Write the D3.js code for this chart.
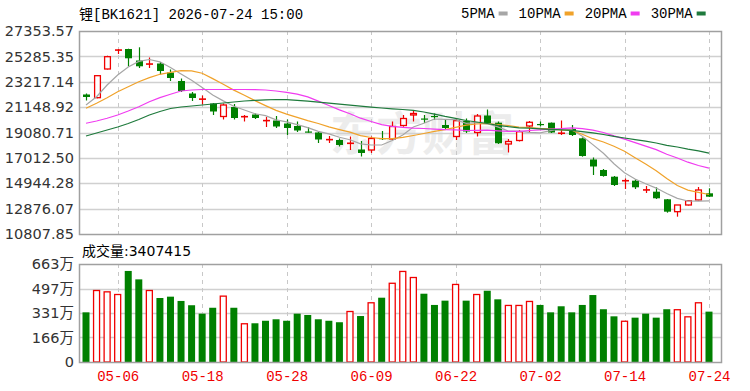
<!DOCTYPE html>
<html lang="zh">
<head>
<meta charset="UTF-8">
<title>锂 BK1621</title>
<script src="https://d3js.org/d3.v7.min.js"></script>
<style>
  body { margin: 0; background: #fff; }
  svg text { font-family: "DejaVu Sans", "Noto Sans CJK SC", sans-serif; }
  .mono { font-family: "Liberation Mono", "Noto Sans CJK SC", monospace !important; }
</style>
</head>
<body>
<div id="chart"></div>
<script>
// trading days shown on the chart
var dates = ["04-28","04-29","04-30","05-06","05-07","05-08","05-11","05-12","05-13","05-14",
  "05-15","05-18","05-19","05-20","05-21","05-22","05-25","05-26","05-27","05-28",
  "05-29","06-01","06-02","06-03","06-04","06-05","06-08","06-09","06-10","06-11",
  "06-12","06-15","06-16","06-17","06-18","06-22","06-23","06-24","06-25","06-26",
  "06-29","06-30","07-01","07-02","07-03","07-06","07-07","07-08","07-09","07-10",
  "07-13","07-14","07-15","07-16","07-17","07-20","07-21","07-22","07-23","07-24"];

var open = [22179,21918,24257,25800,25887,24949,24660,24705,23971,23279,
  22260,21800,21445,20385,21160,20370,20548,20050,20059,19815,
  19611,19163,19081,18500,18470,18200,17696,17655,18633,18552,
  19652,20508,20222,20426,19693,18755,20019,19081,20467,19880,
  18144,18429,19611,19774,19880,19020,19367,18609,16881,16025,
  15479,15150,15153,14400,14257,13637,12627,13173,13580,14126];
var high = [22260,23768,25341,25887,25911,26025,25194,24827,24216,23482,
  22382,22097,21486,21445,21404,20508,20630,20345,20426,20141,
  19978,19530,19122,18796,18592,18755,18389,18755,19204,19978,
  20508,20915,20508,20630,20100,20239,20222,20589,20956,19978,
  18552,19285,20019,19978,19896,20059,19693,18674,17044,16107,
  15536,15332,15267,14721,14615,13662,13173,13580,14640,14534];
var low = [21690,21869,24216,25479,24460,24338,24338,23825,23279,22382,
  21649,21363,20508,20141,20141,19978,20182,19530,19448,18878,
  19122,19065,18226,18226,17940,17655,17125,17411,18470,18470,
  19554,19978,19856,20100,19367,18470,19041,18755,19774,18144,
  17451,18348,19041,19570,19041,18878,18796,17109,15618,15479,
  14721,14477,14477,14151,13662,12545,12219,13132,13539,13825];
var close = [21975,23711,25259,25800,25129,24477,24660,24094,23523,22464,
  21893,21800,20793,21323,20263,20370,20263,20050,19570,19448,
  19244,19098,18511,18500,18063,18200,17411,18592,18592,19570,
  20222,20630,20141,20345,19448,20043,19163,20426,19856,18201,
  18348,19147,19913,19693,19081,19020,18878,17166,16310,15536,
  14803,15150,14615,14400,13719,12627,13173,13523,14395,13849];
var volume = [3360000,4870000,4780000,4600000,6160000,5590000,4870000,4330000,4420000,4130000,
  3840000,3270000,3670000,4490000,3670000,2620000,2620000,2790000,2890000,2790000,
  3270000,3180000,2890000,2790000,2690000,3450000,3110000,4040000,4350000,5360000,
  6160000,5750000,4620000,3860000,4150000,5280000,4150000,4600000,4820000,4240000,
  3860000,3860000,4130000,3860000,3360000,3770000,3360000,3860000,4530000,3570000,
  3090000,2790000,3000000,3270000,3000000,3570000,3570000,3090000,4040000,3407415];

var ma5 = [21323,21999,22953,23768,24420,24876,25031,24844,24387,23849,
  23336,22757,22138,21657,21217,20915,20606,20459,20109,19946,
  19718,19481,19171,18968,18691,18487,18153,18063,18063,18430,
  18878,19530,19832,20182,20158,20125,19832,19889,19791,19538,
  19196,19196,19090,19057,19237,19375,19318,18772,18095,17386,
  16539,15797,15292,14909,14550,14110,13711,13499,13491,13515];
var ma10 = [21054,21461,21918,22407,22814,23222,23548,23825,23988,24118,
  24110,23914,23474,23018,22537,22121,21681,21274,20883,20581,
  20312,20043,19815,19538,19318,19106,18821,18674,18576,18584,
  18682,18837,19000,19179,19318,19497,19676,19774,19815,19733,
  19652,19513,19489,19424,19383,19285,19261,18935,18576,18307,
  17957,17557,17028,16506,15968,15324,14754,14387,14200,14029];
var ma20 = [19832,20019,20239,20508,20834,21184,21592,21918,22195,22464,
  22545,22586,22586,22586,22586,22586,22570,22545,22464,22350,
  22211,21983,21641,21282,20923,20614,20247,19978,19725,19587,
  19497,19440,19408,19359,19318,19301,19245,19261,19277,19220,
  19171,19171,19245,19301,19350,19391,19464,19391,19277,19081,
  18804,18535,18258,17965,17680,17305,17003,16661,16392,16172];
var ma30 = [18796,19041,19285,19530,19815,20141,20508,20793,21037,21160,
  21241,21323,21404,21486,21567,21649,21706,21746,21771,21755,
  21706,21632,21551,21469,21388,21306,21225,21143,21078,21013,
  20956,20891,20752,20581,20393,20239,20059,19937,19815,19668,
  19554,19464,19432,19383,19342,19293,19253,19155,19049,18918,
  18763,18633,18503,18372,18226,18038,17900,17728,17590,17394];

var priceTicks = [10807.85,12876.07,14944.28,17012.50,19080.71,21148.92,23217.14,25285.35,27353.57];
var volTicks = [0,1660000,3310000,4970000,6630000];
var volTickLabels = ["0","166万","331万","497万","663万"];
var dateTicks = ["05-06","05-18","05-28","06-09","06-22","07-02","07-14","07-24"];
var maNames = ["5PMA","10PMA","20PMA","30PMA"];
var maColors = ["#a6a6a6","#f0a22a","#f03cf0","#1e7a3c"];

var title = "锂[BK1621] 2026-07-24 15:00";
var volTitle = "成交量:" + volume[volume.length - 1];

var W = 750, H = 391;
var left = 79, right = 721;
var pTop = 31, pBottom = 234, vTop = 264, vBottom = 362;
var RED = "#f00000", GREEN = "#008000";

var svg = d3.select("#chart").append("svg")
  .attr("width", W).attr("height", H);

var x = d3.scalePoint().domain(dates).range([86, 709]);
var y = d3.scaleLinear().domain([priceTicks[0], priceTicks[priceTicks.length - 1]]).range([pBottom, pTop]);
var yv = d3.scaleLinear().domain([0, volTicks[volTicks.length - 1]]).range([vBottom, vTop]);

// watermark
svg.append("text")
  .attr("x", 330).attr("y", 150)
  .attr("font-size", 46).attr("font-weight", "bold")
  .style("font-family", "'Noto Sans CJK SC'")
  .attr("fill", "#ececec")
  .text("东方财富");

// horizontal grid
svg.append("g").selectAll("line").data(priceTicks.slice(1, -1)).enter().append("line")
  .attr("x1", left).attr("x2", right)
  .attr("y1", d => Math.round(y(d)) + 0.5).attr("y2", d => Math.round(y(d)) + 0.5)
  .attr("stroke", "#d0d0d0").attr("stroke-width", 1.3);
svg.append("g").selectAll("line").data(volTicks.slice(1, -1)).enter().append("line")
  .attr("x1", left).attr("x2", right)
  .attr("y1", d => Math.round(yv(d)) + 0.5).attr("y2", d => Math.round(yv(d)) + 0.5)
  .attr("stroke", "#d0d0d0").attr("stroke-width", 1.3);

// vertical dashed grid
[[pTop, pBottom], [vTop, vBottom]].forEach(function(r) {
  svg.append("g").selectAll("line").data(dateTicks).enter().append("line")
    .attr("x1", d => Math.round(x(d)) + 0.5).attr("x2", d => Math.round(x(d)) + 0.5)
    .attr("y1", r[0]).attr("y2", r[1])
    .attr("stroke", "#c8c8c8").attr("stroke-dasharray", "4,4");
});

// axes
var yAxis = svg.append("g")
  .attr("transform", "translate(" + left + ",0)")
  .call(d3.axisLeft(y).tickValues(priceTicks).tickFormat(d3.format(".2f")).tickSize(0).tickPadding(5));
var vAxis = svg.append("g")
  .attr("transform", "translate(" + left + ",0)")
  .call(d3.axisLeft(yv).tickValues(volTicks).tickFormat((d, i) => volTickLabels[i]).tickSize(0).tickPadding(5));
[yAxis, vAxis].forEach(function(a) {
  a.select(".domain").remove();
  a.selectAll("text").attr("font-size", 14.5).attr("fill", "#333")
    .style("font-family", "'DejaVu Sans', 'Noto Sans CJK SC'");
});

var xAxis = svg.append("g")
  .attr("transform", "translate(0," + vBottom + ")")
  .call(d3.axisBottom(x).tickValues(dateTicks).tickSize(0).tickPadding(9));
xAxis.select(".domain").remove();
xAxis.selectAll("text").attr("class", "mono").attr("font-size", 14).attr("fill", "#f00000");

// volume bars
var vw = 7;
function isUp(i) {
  if (close[i] > open[i]) return true;
  if (close[i] < open[i]) return false;
  return i > 0 ? close[i] >= close[i - 1] : true;
}
svg.append("g").selectAll("rect").data(dates).enter().append("rect")
  .attr("x", (d, i) => x(d) - vw / 2 + (isUp(i) ? 0.5 : 0))
  .attr("y", (d, i) => yv(volume[i]) + (isUp(i) ? 0.5 : 0))
  .attr("width", (d, i) => isUp(i) ? vw - 1 : vw)
  .attr("height", (d, i) => vBottom - yv(volume[i]) - (isUp(i) ? 0.5 : 0))
  .attr("fill", (d, i) => isUp(i) ? "#fff" : GREEN)
  .attr("stroke", (d, i) => isUp(i) ? RED : "none")
  .attr("stroke-width", 1.3);

// candles
var cw = 7;
var candles = svg.append("g").selectAll("g").data(dates).enter().append("g");
candles.append("line")
  .attr("x1", d => Math.round(x(d)) + 0.5).attr("x2", d => Math.round(x(d)) + 0.5)
  .attr("y1", (d, i) => y(high[i])).attr("y2", (d, i) => y(low[i]))
  .attr("stroke", (d, i) => close[i] >= open[i] ? RED : GREEN)
  .attr("stroke-width", 1.2);
candles.append("rect")
  .attr("x", (d, i) => Math.round(x(d)) + 0.5 - cw / 2 + (close[i] > open[i] ? 0.6 : 0))
  .attr("y", (d, i) => close[i] === open[i] ? y(close[i]) - 0.8 : y(Math.max(open[i], close[i])))
  .attr("width", (d, i) => close[i] > open[i] ? cw - 1.2 : cw)
  .attr("height", (d, i) => close[i] === open[i] ? 1.6 : Math.max(1.2, Math.abs(y(open[i]) - y(close[i]))))
  .attr("fill", (d, i) => close[i] > open[i] ? "#fff" : (close[i] === open[i] ? RED : GREEN))
  .attr("stroke", (d, i) => close[i] > open[i] ? RED : "none")
  .attr("stroke-width", 1.3);

// moving averages
var mas = [ma5, ma10, ma20, ma30];
mas.forEach(function(m, k) {
  svg.append("path")
    .datum(m)
    .attr("fill", "none")
    .attr("stroke", maColors[k])
    .attr("stroke-width", 1.2)
    .attr("d", d3.line().x((d, i) => x(dates[i])).y(d => y(d)));
});

// panel borders
[[pTop, pBottom], [vTop, vBottom]].forEach(function(r) {
  svg.append("rect")
    .attr("x", left + 0.5).attr("y", r[0] + 0.5)
    .attr("width", right - left).attr("height", r[1] - r[0])
    .attr("fill", "none").attr("stroke", "#a0a0a0").attr("stroke-width", 1.5);
});

// title and volume label
svg.append("text").attr("class", "mono")
  .attr("x", left).attr("y", 18.5).attr("font-size", 14).attr("fill", "#000")
  .text(title);
svg.append("text")
  .attr("x", 82).attr("y", 256).attr("font-size", 14).attr("fill", "#000")
  .text(volTitle);

// legend
var lx = 461;
maNames.forEach(function(n, k) {
  var t = svg.append("text").attr("class", "mono")
    .attr("x", lx).attr("y", 18).attr("font-size", 14).attr("fill", "#000")
    .text(n);
  var tw = t.node().getComputedTextLength();
  svg.append("rect")
    .attr("x", lx + tw + 4).attr("y", 11.5).attr("width", 9).attr("height", 4)
    .attr("fill", maColors[k]);
  lx += tw + 24;
});
</script>
</body>
</html>
